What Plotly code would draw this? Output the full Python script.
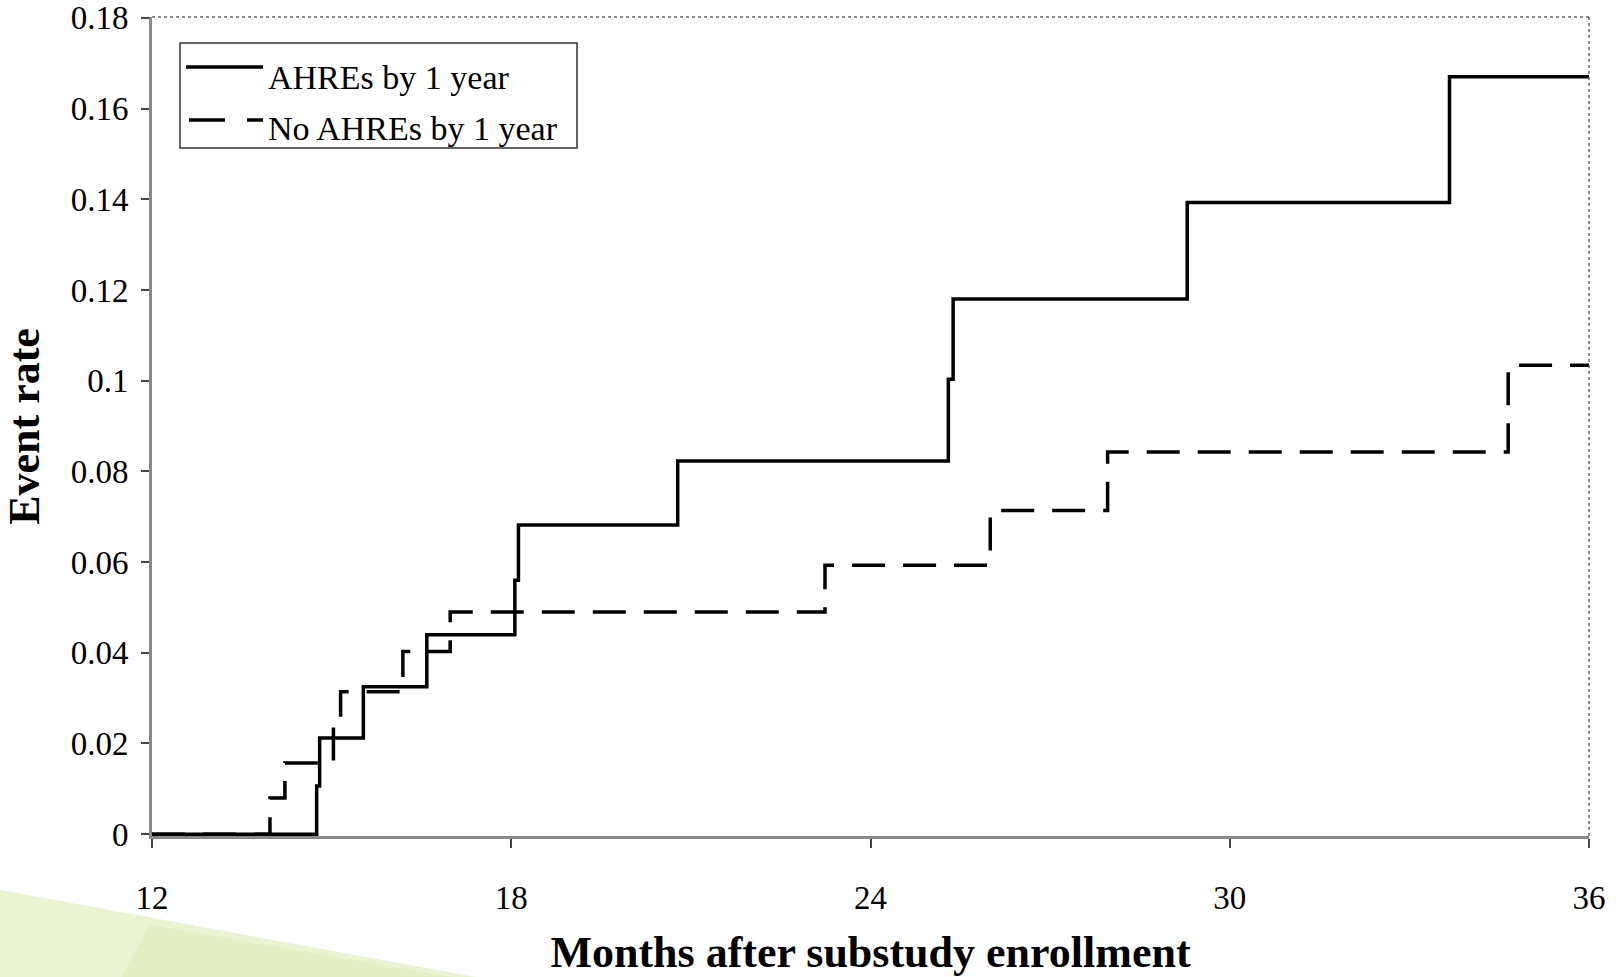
import plotly.graph_objects as go

# ---- data ----
ahre_months = [12, 14.75, 14.80, 15.53, 16.59, 18.06, 18.12, 20.78, 25.30, 25.38, 29.29, 33.67, 36]
ahre_rate = [0, 0.0106, 0.0212, 0.0325, 0.044, 0.056, 0.0682, 0.0823, 0.1003, 0.118, 0.1393, 0.167, 0.167]

no_ahre_months = [12, 13.97, 14.22, 15.03, 15.15, 16.19, 16.98, 23.24, 26.00, 27.96, 34.65, 36]
no_ahre_rate = [0, 0.008, 0.0157, 0.0238, 0.0314, 0.0403, 0.049, 0.0593, 0.0714, 0.0843, 0.1034, 0.1034]

series_names = ["AHREs by 1 year", "No AHREs by 1 year"]
x_ticks = [12, 18, 24, 30, 36]
x_tick_labels = ["12", "18", "24", "30", "36"]
y_ticks = [0, 0.02, 0.04, 0.06, 0.08, 0.10, 0.12, 0.14, 0.16, 0.18]
y_tick_labels = ["0", "0.02", "0.04", "0.06", "0.08", "0.1", "0.12", "0.14", "0.16", "0.18"]

# ---- layout geometry ----
W, H = 1623, 977
ML, MR, MT, MB = 152, 34, 17, 141
PW, PH = W - ML - MR, H - MT - MB
FONT = "Liberation Serif"


def px(xp):
    return (xp - ML) / PW


def py(yp):
    return (H - MB - yp) / PH


fig = go.Figure()
fig.add_trace(go.Scatter(
    x=ahre_months, y=ahre_rate, mode="lines", line_shape="hv",
    line=dict(color="black", width=3.5), name=series_names[0], showlegend=False))
fig.add_trace(go.Scatter(
    x=no_ahre_months, y=no_ahre_rate, mode="lines", line_shape="hv",
    line=dict(color="black", width=3.5, dash="33px,18px"), name=series_names[1], showlegend=False))

shapes = [
    # decorative green wedge at bottom-left
    dict(type="path", xref="paper", yref="paper",
         path=f"M {px(-5)},{py(889)} L {px(492)},{py(980)} L {px(-5)},{py(980)} Z",
         fillcolor="#eaf3d2", line=dict(width=0), layer="below"),
    dict(type="path", xref="paper", yref="paper",
         path=f"M {px(150)},{py(925)} L {px(470)},{py(980)} L {px(120)},{py(980)} Z",
         fillcolor="#e2eec2", line=dict(width=0), layer="below", opacity=0.7),
    # dotted frame top and right
    dict(type="line", xref="paper", yref="paper", x0=0, x1=1, y0=1, y1=1,
         line=dict(color="#666", width=1.5, dash="dot")),
    dict(type="line", xref="paper", yref="paper", x0=1, x1=1, y0=0, y1=1,
         line=dict(color="#666", width=1.5, dash="dot")),
    # legend box
    dict(type="rect", xref="paper", yref="paper", x0=px(180), x1=px(577), y0=py(148), y1=py(43),
         line=dict(color="#333", width=1.5), fillcolor="white"),
    dict(type="line", xref="paper", yref="paper", x0=px(186), x1=px(263), y0=py(67), y1=py(67),
         line=dict(color="black", width=3.5)),
    dict(type="line", xref="paper", yref="paper", x0=px(189), x1=px(263), y0=py(120), y1=py(120),
         line=dict(color="black", width=3.5, dash="36px,22px")),
]

annotations = [
    dict(text=series_names[0], xref="paper", yref="paper", x=px(266), y=py(78),
         xanchor="left", yanchor="middle", showarrow=False,
         font=dict(family=FONT, size=34, color="black")),
    dict(text=series_names[1], xref="paper", yref="paper", x=px(266), y=py(129),
         xanchor="left", yanchor="middle", showarrow=False,
         font=dict(family=FONT, size=34, color="black")),
]

fig.update_layout(
    width=W, height=H,
    margin=dict(l=ML, r=MR, t=MT, b=MB, autoexpand=False),
    paper_bgcolor="white", plot_bgcolor="white",
    font=dict(family=FONT, color="black"),
    shapes=shapes, annotations=annotations,
    showlegend=False,
    xaxis=dict(
        range=[12, 36], tickvals=x_ticks, ticktext=x_tick_labels,
        showgrid=False, zeroline=False, showline=True, linecolor="#888", linewidth=2.5,
        ticks="outside", ticklen=9, tickwidth=2, tickcolor="#444",
        ticklabelstandoff=22, tickfont=dict(family=FONT, size=33),
        title=dict(text="<b>Months after substudy enrollment</b>", standoff=21,
                   font=dict(family=FONT, size=44)),
        automargin=False,
    ),
    yaxis=dict(
        range=[-0.0004, 0.1802], tickvals=y_ticks, ticktext=y_tick_labels,
        showgrid=False, zeroline=False, showline=True, linecolor="#888", linewidth=3,
        ticks="outside", ticklen=8, tickwidth=2, tickcolor="#444",
        ticklabelstandoff=6, tickfont=dict(family=FONT, size=33),
        title=dict(text="<b>Event rate</b>", standoff=24,
                   font=dict(family=FONT, size=44)),
        automargin=False,
    ),
)

fig.write_html("out.html", config={"displayModeBar": False},
               post_script="document.body.style.margin='0';document.body.style.overflow='hidden';")
